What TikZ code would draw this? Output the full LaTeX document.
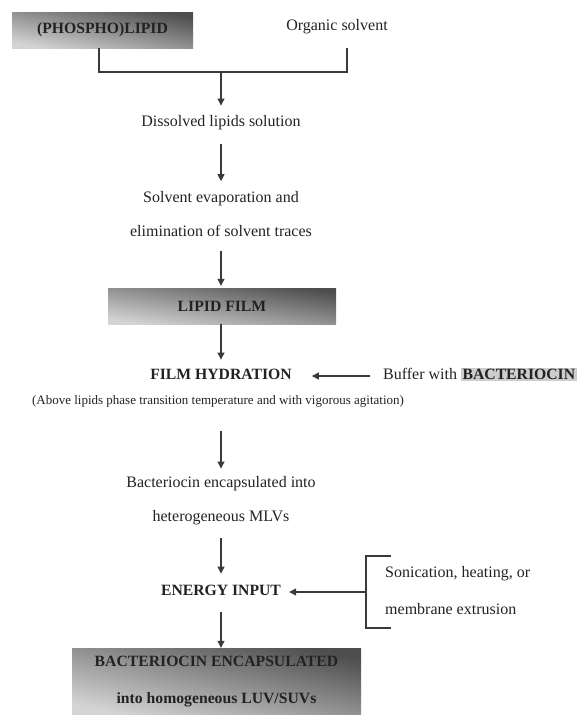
\documentclass[tikz,border=0pt]{standalone}
\usepackage{fontspec}
\setmainfont{Liberation Serif}
\usetikzlibrary{arrows.meta}
\definecolor{linec}{HTML}{3A3A3A}
\definecolor{darkg}{HTML}{4E4E4E}
\definecolor{lightg}{HTML}{D4D4D4}
\definecolor{bacg}{HTML}{CDCDCD}
\definecolor{txtc}{HTML}{222222}
\newcommand\rgfont{\fontsize{16}{34}\selectfont}
\newcommand\bdfont{\fontsize{15.7}{37}\selectfont\bfseries}
\newcommand\anfont{\fontsize{13}{15}\selectfont}
\tikzset{
  gbox/.style={shading=axis, left color=lightg, right color=darkg, shading angle=#1,
    inner sep=0pt, font=\bdfont, text=txtc, align=center},
  txt/.style={inner sep=0pt, font=\rgfont, text=txtc, text height=11pt, text depth=3.5pt},
  mtxt/.style={inner sep=0pt, font=\rgfont, text=txtc, align=center},
  btxt/.style={inner sep=0pt, font=\bdfont, text=txtc, text height=11pt, text depth=3.5pt},
  arr/.style={draw=linec, line width=1.1pt, -{Triangle[width=7pt,length=7pt]}},
  ln/.style={draw=linec, line width=1.1pt},
}
\begin{document}
\begin{tikzpicture}[x=1pt,y=-1pt]
\useasboundingbox (0,0) rectangle (577,715);
% nodes
\node[gbox=168.75, minimum width=181pt, minimum height=36pt] (phos) at (102.5,30) {(PHOSPHO)LIPID};
\node[txt] (org) at (337,27) {Organic solvent};
\node[txt] (diss) at (221,123) {Dissolved lipids solution};
\node[mtxt] (solv) at (221,214) {Solvent evaporation and\\elimination of solvent traces};
\node[gbox=171, minimum width=228pt, minimum height=36pt] (film) at (222,306) {LIPID FILM};
\node[btxt] (hyd) at (221,376) {FILM HYDRATION};
\node[txt, anchor=west] (buf) at (383,376) {Buffer with {\setlength\fboxsep{1.5pt}\colorbox{bacg}{\bdfont BACTERIOCIN}}};
\node[inner sep=0pt, font=\anfont, text=txtc] (annot) at (218,401) {(Above lipids phase transition temperature and with vigorous agitation)};
\node[mtxt] (mlv) at (221,501) {Bacteriocin encapsulated into\\heterogeneous MLVs};
\node[btxt] (energy) at (221,592) {ENERGY INPUT};
\node[inner sep=0pt, font=\fontsize{16}{37}\selectfont, text=txtc, align=left, anchor=west] (son) at (385,590.5) {Sonication, heating, or\\membrane extrusion};
\node[gbox=167, minimum width=289pt, minimum height=67pt] (final) at (216.5,681.5) {BACTERIOCIN ENCAPSULATED\\into homogeneous LUV/SUVs};
% main axis
\coordinate (ax) at (221,0);
% junction
\coordinate (jl) at (99,72);
\coordinate (jr) at (347,72);
\coordinate (jc) at (221,72);
\draw[ln] (jl |- phos.south) -- (jl) -- (jr) -- ++(0,-24);
\draw[arr, shorten >=10pt] (jc) -- (diss);
\draw[arr, shorten <=14pt, shorten >=10pt] (diss) -- (solv);
\draw[arr, shorten <=14pt, shorten >=2pt] (ax |- solv.south) -- (ax |- film.north);
\draw[arr, shorten >=9pt] (ax |- film.south) -- (hyd);
\draw[arr, shorten <=13pt, shorten >=20pt] (buf.west) -- (hyd.east);
\draw[arr, shorten <=48pt, shorten >=8pt] (hyd) -- (mlv);
\draw[arr, shorten <=13pt, shorten >=11pt] (mlv) -- (energy);
\draw[arr, shorten <=13pt] (energy) -- (ax |- final.north);
% bracket
\coordinate (bt) at (391,556);
\coordinate (bb) at (391,628);
\coordinate (bm) at (366,592);
\draw[ln] (bt) -- (bm |- bt) -- (bm |- bb) -- (bb);
\draw[arr, shorten >=8pt] (bm) -- (energy.east);
\end{tikzpicture}
\end{document}
